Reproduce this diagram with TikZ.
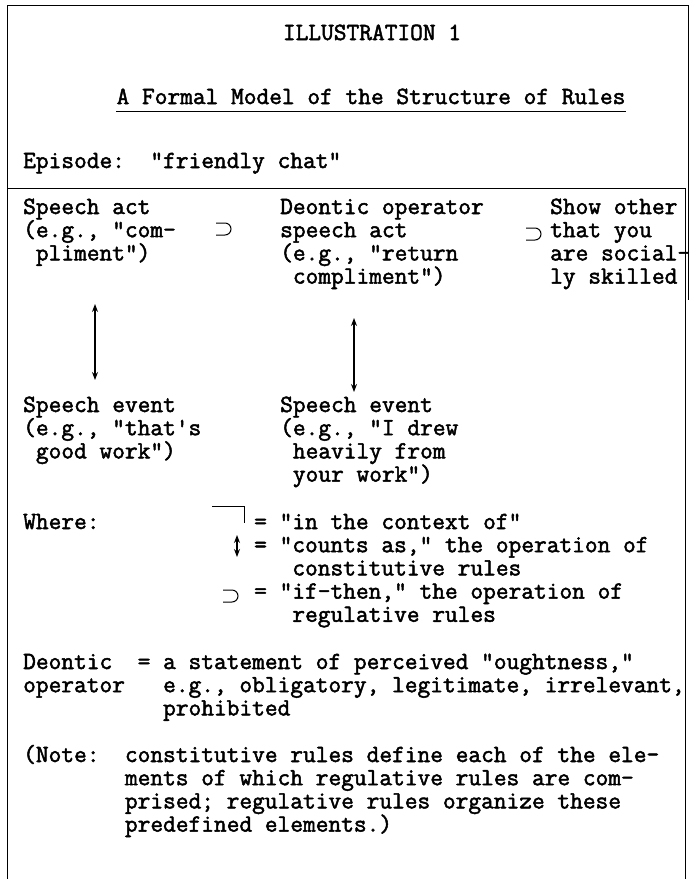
\documentclass[tikz,border=0pt]{standalone}
\usepackage{fontspec}
\setmonofont{Latin Modern Mono}[RawFeature={embolden=2}]
\usetikzlibrary{arrows.meta}

\begin{document}
\begin{tikzpicture}[
    x=1pt, y=-1pt,
    >={Stealth[length=8pt, width=6pt]},
    typed/.style={font=\ttfamily\frenchspacing\fontsize{24.7}{23.2}\selectfont,
                  inner sep=0pt, align=left, anchor=base west},
    rule/.style={line width=0.8pt},
    impl/.pic={\draw[line width=1pt] (-8,-6) -- (1,-6)
                 arc[start angle=-90, end angle=90, radius=6] -- (-8,6);}
  ]
  \useasboundingbox (0,0) rectangle (696,879);

  % frame
  \draw[rule] (7,879) -- (7,5) -- (688,5) -- (688,300);
  \draw[rule] (7,188) -- (685,188) -- (685,879);

  % heading
  \node[typed, anchor=base] (ttl) at (372,40) {ILLUSTRATION 1};
  \node[typed, anchor=base] (sub) at (371,104) {A Formal Model of the Structure of Rules};
  \draw[line width=0.8pt] ([yshift=-7pt]sub.base west) -- ([yshift=-7pt]sub.base east);
  \node[typed] (epi) at (23,168) {Episode:~~"friendly chat"};

  % first row (base = last line)
  \node[typed] (act1) at (23,260.4) {Speech act\\(e.g., "com-\\~pliment")};
  \node[typed] (act2) at (280,283.6) {Deontic operator\\speech act\\(e.g., "return\\~compliment")};
  \node[typed] (goal) at (550,283.6) {Show other\\that you\\are social-\\ly skilled};
  \pic at (224,229) {impl};
  \pic at (534,234) {impl};

  % second row
  \node[typed] (ev1) at (23,458.4) {Speech event\\(e.g., "that's\\~good work")};
  \node[typed] (ev2) at (280,481.6) {Speech event\\(e.g., "I drew\\~heavily from\\~your work")};

  \coordinate (up1) at (95,304);
  \coordinate (dn1) at (95,380);
  \coordinate (up2) at (354,318);
  \coordinate (dn2) at (354,392);
  \draw[<->, line width=1.2pt] (up1) -- (dn1);
  \draw[<->, line width=1.2pt] (up2) -- (dn2);

  % key
  \node[typed] (where) at (23,529) {Where:};
  \node[typed] (key) at (254,621.8) {=~"in the context of"\\=~"counts as," the operation of\\
    ~~~constitutive rules\\=~"if-then," the operation of\\~~~regulative rules};
  \coordinate (ctx1) at (212,506);
  \coordinate (ctx2) at (244,506);
  \coordinate (ctx3) at (244,523);
  \draw[line width=1pt] (ctx1) -- (ctx2) -- (ctx3);
  \coordinate (cnt1) at (237,535);
  \coordinate (cnt2) at (237,557);
  \draw[<->, line width=1.2pt] (cnt1) -- (cnt2);
  \pic at (231,596) {impl};

  \node[typed] (deon) at (23,715.4) {Deontic~~=~a statement of perceived "oughtness,"\\
    operator~~~e.g., obligatory, legitimate, irrelevant,\\
    ~~~~~~~~~~~prohibited};
  \node[typed] (note) at (23,831.6) {(Note:~~constitutive rules define each of the ele-\\
    ~~~~~~~~ments of which regulative rules are com-\\
    ~~~~~~~~prised; regulative rules organize these\\
    ~~~~~~~~predefined elements.)};
\end{tikzpicture}
\end{document}
